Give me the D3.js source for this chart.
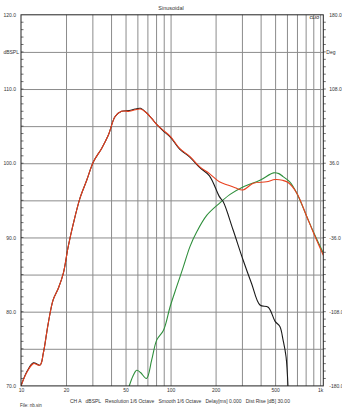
<!DOCTYPE html>
<html>
<head>
<meta charset="utf-8">
<script src="https://cdn.jsdelivr.net/npm/d3@7"></script>
<style>
  body { margin: 0; background: #fff; }
  svg { display: block; font-family: "Liberation Sans", Arial, sans-serif; }
  .grid line { stroke: #8c8c8c; stroke-width: 1; }
  .grid path { display: none; }
  .lbl text { font-size: 5px; fill: #333; }
  .lbl path, .lbl line { display: none; }
</style>
</head>
<body>
<div id="area"></div>
<script>
// chart data
var title = 'Sinusoidal';
var footer = 'CH A   dBSPL   Resolution 1/6 Octave   Smooth 1/6 Octave   Delay[ms] 0.000   Dist Rise [dB] 30.00';
var fileName = 'File: nb.sin';

var freqGrid = [20, 30, 40, 50, 60, 70, 80, 90, 100, 200, 300, 400, 500, 600, 700, 800, 900, 1000];
var freqLabels = [10, 20, 50, 100, 200, 500, 1000];
var dbGrid = [75, 80, 85, 90, 95, 100, 105, 110, 115];
var dbLabels = [120, 110, 100, 90, 80, 70];
var degLabels = ['180.0', '108.0', '36.0', '-36.0', '-108.0', '-180.0'];

// sum (red)
var sumFreq = [10, 11, 12.1, 13.4, 14.1, 15.2, 16.4, 17.8, 19.2, 20.7, 22.4, 24.8, 27.5, 30.5, 34.6, 38.4, 42.6, 47, 53, 58, 63, 69, 75, 81, 90, 100, 115, 135, 157, 182, 212, 238, 270, 305, 357, 438, 500, 560, 611, 697, 815, 904, 1050];
var sumDb   = [70, 71.9, 73.0, 72.8, 74.4, 78.4, 81.6, 83.2, 85.2, 88.8, 91.9, 95.3, 97.7, 100.2, 102.0, 103.8, 106.3, 107.0, 107.0, 107.2, 107.3, 106.8, 106.0, 105.2, 104.4, 103.6, 102.0, 100.9, 99.5, 98.6, 97.5, 97.1, 96.7, 96.4, 97.3, 97.5, 97.8, 97.7, 97.4, 96.0, 92.8, 90.6, 87.6];

// low pass (black)
var lowFreq = [10, 11, 12.1, 13.4, 14.1, 15.2, 16.4, 17.8, 19.2, 20.7, 22.4, 24.8, 27.5, 30.5, 34.6, 38.4, 42.6, 47, 53, 58, 63, 69, 75, 81, 90, 100, 115, 135, 157, 182, 212, 225, 262, 305, 348, 396, 450, 500, 538, 565, 592, 615];
var lowDb   = [70, 72.0, 73.1, 72.8, 74.4, 78.4, 81.6, 83.2, 85.2, 88.8, 91.9, 95.3, 97.7, 100.2, 102.0, 103.8, 106.3, 107.0, 107.1, 107.3, 107.4, 106.8, 106.0, 105.2, 104.3, 103.5, 101.9, 100.8, 99.4, 98.3, 95.5, 94.8, 91.0, 87.0, 83.8, 80.9, 80.6, 78.7, 78.0, 76.2, 73.9, 68.0];

// high pass (green)
var highFreq = [52, 56, 59.4, 63, 69, 74.8, 80.9, 89.7, 99.4, 110, 122, 135, 150, 175, 212, 250, 305, 396, 488, 530, 565, 626, 697, 815, 904, 1050];
var highDb   = [69.5, 71.3, 72.1, 71.8, 71.0, 73.5, 76.2, 77.5, 80.7, 83.4, 86.1, 88.8, 90.8, 93.0, 94.6, 95.8, 96.8, 97.7, 98.7, 98.6, 98.2, 97.5, 96.0, 92.8, 90.7, 87.9];

var W = 342, H = 415;
var plotL = 21, plotR = 323.3, plotT = 14.8, plotB = 385.9;

var svg = d3.select('#area').append('svg').attr('width', W).attr('height', H);

var x = d3.scaleLog().domain([10, 1050]).range([plotL, plotR]);
var y = d3.scaleLinear().domain([70, 120]).range([plotB, plotT]);

//Grid lines
svg.append('g').attr('class', 'grid')
	.attr('transform', 'translate(0,' + plotB + ')')
	.call(d3.axisBottom(x).tickValues(freqGrid).tickSize(-(plotB - plotT)).tickFormat(''));
svg.append('g').attr('class', 'grid')
	.attr('transform', 'translate(' + plotL + ',0)')
	.call(d3.axisLeft(y).tickValues(dbGrid).tickSize(-(plotR - plotL)).tickFormat(''));

//Minor ticks on both sides
var minor = d3.range(71, 120, 1);
svg.append('g').selectAll('line').data(minor).enter().append('line')
	.attr('x1', plotL).attr('x2', plotL + 2.5)
	.attr('y1', function(d){ return y(d); }).attr('y2', function(d){ return y(d); })
	.attr('stroke', '#333').attr('stroke-width', 0.7);
svg.append('g').selectAll('line').data(minor).enter().append('line')
	.attr('x1', plotR).attr('x2', plotR + 2.5)
	.attr('y1', function(d){ return y(d); }).attr('y2', function(d){ return y(d); })
	.attr('stroke', '#333').attr('stroke-width', 0.7);

//Curves
svg.append('clipPath').attr('id', 'clip').append('rect')
	.attr('x', plotL).attr('y', plotT).attr('width', plotR - plotL).attr('height', plotB - plotT);

var line = d3.line()
	.x(function(d){ return x(d[0]); })
	.y(function(d){ return y(d[1]); })
	.curve(d3.curveCatmullRom.alpha(0.5));

var curves = svg.append('g').attr('clip-path', 'url(#clip)').attr('fill', 'none');
curves.append('path').attr('d', line(d3.zip(highFreq, highDb))).attr('stroke', '#2f8f3c').attr('stroke-width', 1.1);
curves.append('path').attr('d', line(d3.zip(lowFreq, lowDb))).attr('stroke', '#1a1a1a').attr('stroke-width', 1.1);
curves.append('path').attr('d', line(d3.zip(sumFreq, sumDb))).attr('stroke', '#e8401e').attr('stroke-width', 1.1);

//Frame
svg.append('rect').attr('x', plotL).attr('y', plotT).attr('width', plotR - plotL).attr('height', plotB - plotT)
	.attr('fill', 'none').attr('stroke', '#222').attr('stroke-width', 1);

//Labels
svg.append('g').attr('class', 'lbl')
	.attr('transform', 'translate(0,' + plotB + ')')
	.call(d3.axisBottom(x).tickValues(freqLabels).tickSize(0)
		.tickFormat(function(d){ return d >= 1000 ? (d / 1000) + 'k' : d; }));
svg.append('g').attr('class', 'lbl')
	.attr('transform', 'translate(' + (plotL - 2) + ',0)')
	.call(d3.axisLeft(y).tickValues(dbLabels).tickSize(0).tickFormat(d3.format('.1f')));
svg.append('g').attr('class', 'lbl')
	.attr('transform', 'translate(' + (plotR + 3) + ',0)')
	.call(d3.axisRight(y).tickValues(dbLabels).tickSize(0)
		.tickFormat(function(d, i){ return degLabels[i]; }));

svg.append('text').attr('x', plotL - 2).attr('y', y(115)).attr('dy', '0.32em')
	.attr('text-anchor', 'end').attr('font-size', 5).attr('fill', '#333').text('dBSPL');
svg.append('text').attr('x', plotR + 3).attr('y', y(115)).attr('dy', '0.32em')
	.attr('font-size', 5).attr('fill', '#333').text('Deg');

svg.append('text').attr('x', 171).attr('y', 10).attr('text-anchor', 'middle')
	.attr('font-size', 5.5).attr('fill', '#333').text(title);
svg.append('text').attr('x', 319).attr('y', 19).attr('text-anchor', 'end')
	.attr('font-size', 4).attr('font-weight', 'bold').attr('font-style', 'italic').attr('fill', '#333').text('CLIO');
svg.append('text').attr('x', 70).attr('y', 402.5)
	.attr('font-size', 5).attr('fill', '#333').style('white-space', 'pre').text(footer);
svg.append('text').attr('x', 20).attr('y', 406.5)
	.attr('font-size', 4.5).attr('fill', '#333').text(fileName);
</script>
</body>
</html>
